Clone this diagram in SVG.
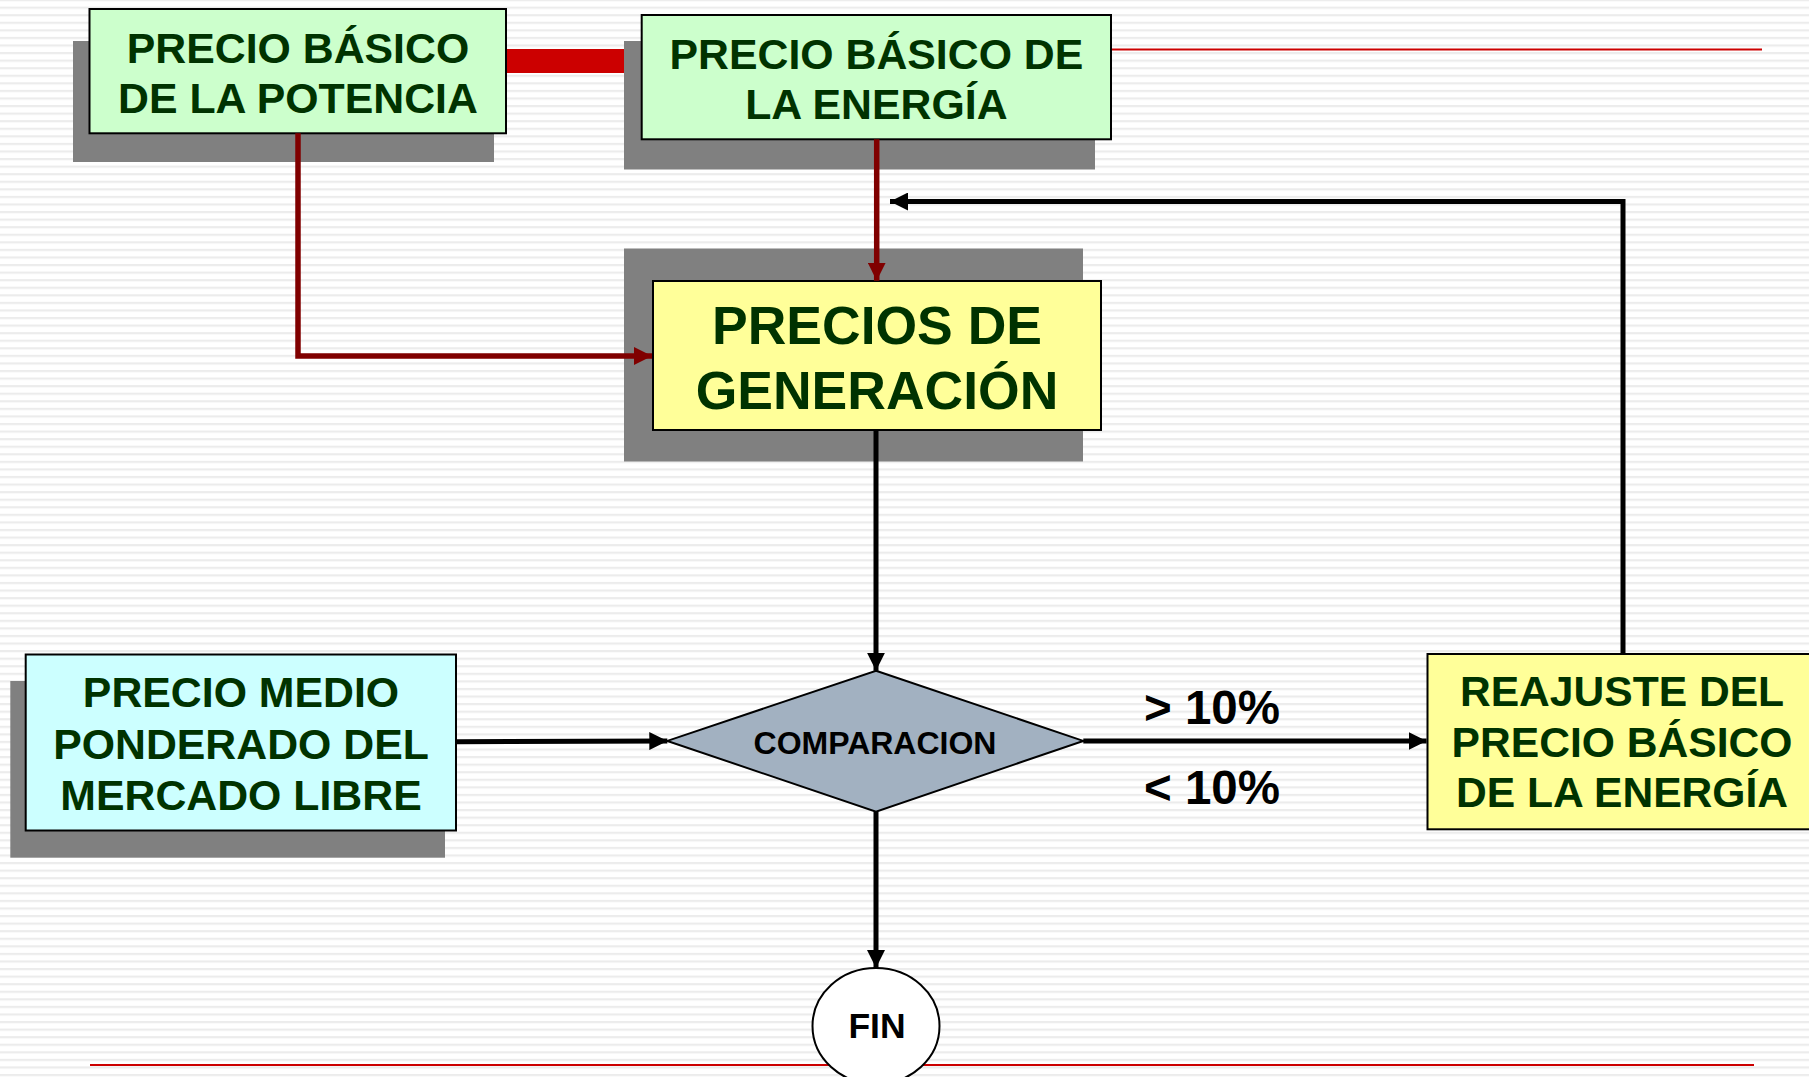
<svg xmlns="http://www.w3.org/2000/svg" width="1809" height="1077" viewBox="0 0 1809 1077">
<defs>
<pattern id="stripes" patternUnits="userSpaceOnUse" x="0" y="6.6" width="20" height="7.57">
<rect x="0" y="0" width="20" height="2.2" fill="#ececec"/>
</pattern>
<marker id="ahBlack" markerUnits="userSpaceOnUse" viewBox="0 0 18 18" refX="18" refY="9" markerWidth="18" markerHeight="18" orient="auto">
<path d="M0,0 L18,9 L0,18 Z" fill="#000"/>
</marker>
<marker id="ahRed" markerUnits="userSpaceOnUse" viewBox="0 0 18 18" refX="18" refY="9" markerWidth="18" markerHeight="18" orient="auto">
<path d="M0,0 L18,9 L0,18 Z" fill="#800000"/>
</marker>
<style>
.shadow{fill:#808080}
.box{stroke:#000;stroke-width:2}
.green{fill:#CCFFCC}
.yellow{fill:#FFFF99}
.cyan{fill:#CCFFFF}
.t{font-family:"Liberation Sans",Arial,sans-serif;font-weight:bold;fill:#003300;text-anchor:middle}
.tb{font-family:"Liberation Sans",Arial,sans-serif;font-weight:bold;fill:#000;text-anchor:middle}
.red{fill:none;stroke:#800000;stroke-width:5.5}
.blk{fill:none;stroke:#000;stroke-width:5}
</style>
</defs>
<rect width="1809" height="1077" fill="#fff"/>
<rect width="1809" height="1077" fill="url(#stripes)"/>
<g id="decor">
<line x1="1111" y1="49.6" x2="1762" y2="49.6" stroke="#CC0000" stroke-width="2"/>
<line x1="90" y1="1065" x2="1754" y2="1065" stroke="#CC0000" stroke-width="2"/>
<rect x="506" y="49" width="118" height="24" fill="#CC0000"/>
</g>
<g id="node-potencia">
<rect class="shadow" x="73" y="41" width="421" height="121"/>
<rect class="box green" x="89.5" y="9" width="416.5" height="124.3"/>
<text class="t" font-size="42.8" x="298" y="63">PRECIO BÁSICO</text>
<text class="t" font-size="42.8" x="298" y="113">DE LA POTENCIA</text>
</g>
<g id="node-energia">
<rect class="shadow" x="624" y="41" width="471" height="128.5"/>
<rect class="box green" x="641.7" y="15" width="469.3" height="124.3"/>
<text class="t" font-size="42.8" x="876.4" y="68.5">PRECIO BÁSICO DE</text>
<text class="t" font-size="42.8" x="876.4" y="119">LA ENERGÍA</text>
</g>
<g id="node-generacion">
<rect class="shadow" x="624" y="248.5" width="459" height="213"/>
<rect class="box yellow" x="653" y="281" width="448" height="149"/>
<text class="t" font-size="53.5" x="877" y="344">PRECIOS DE</text>
<text class="t" font-size="53.5" x="877" y="409">GENERACIÓN</text>
</g>
<g id="node-mercado">
<rect class="shadow" x="10.3" y="681" width="434.7" height="176.7"/>
<rect class="box cyan" x="25.7" y="654.5" width="430.3" height="176"/>
<text class="t" font-size="42.8" x="241" y="707">PRECIO MEDIO</text>
<text class="t" font-size="42.8" x="241" y="758.5">PONDERADO DEL</text>
<text class="t" font-size="42.8" x="241" y="810">MERCADO LIBRE</text>
</g>
<g id="node-comparacion">
<polygon points="876,670.7 1083.3,740.9 876,811.7 667.3,740.9" fill="#A2B1C1" stroke="#000" stroke-width="2"/>
<text class="tb" font-size="32" x="875" y="753.5">COMPARACION</text>
</g>
<g id="node-reajuste">
<rect class="box yellow" x="1427.5" y="654" width="390" height="175.3"/>
<text class="t" font-size="42.6" x="1622" y="706">REAJUSTE DEL</text>
<text class="t" font-size="42.6" x="1622" y="756.7">PRECIO BÁSICO</text>
<text class="t" font-size="42.6" x="1622" y="807.3">DE LA ENERGÍA</text>
</g>
<g id="node-fin">
<ellipse cx="876" cy="1026" rx="63.5" ry="58" fill="#fff" stroke="#000" stroke-width="2"/>
<text class="tb" font-size="35.5" x="877" y="1038">FIN</text>
</g>
<g id="connectors">
<path class="red" d="M298,133.3 V356 H652" marker-end="url(#ahRed)"/>
<path class="red" d="M876.7,139.3 V280.7" stroke-width="5" marker-end="url(#ahRed)"/>
<path class="blk" d="M1623,654 V201.5 H890" stroke-width="5.5" marker-end="url(#ahBlack)"/>
<path class="blk" d="M876,430 V670.7" marker-end="url(#ahBlack)"/>
<path class="blk" d="M456,741.7 L667.3,741" marker-end="url(#ahBlack)"/>
<path class="blk" d="M1083.3,741 H1426.6" marker-end="url(#ahBlack)"/>
<path class="blk" d="M876,811.7 V968" marker-end="url(#ahBlack)"/>
<text class="tb" font-size="47.5" x="1212" y="724">&gt; 10%</text>
<text class="tb" font-size="47.5" x="1212" y="804">&lt; 10%</text>
</g>
</svg>
